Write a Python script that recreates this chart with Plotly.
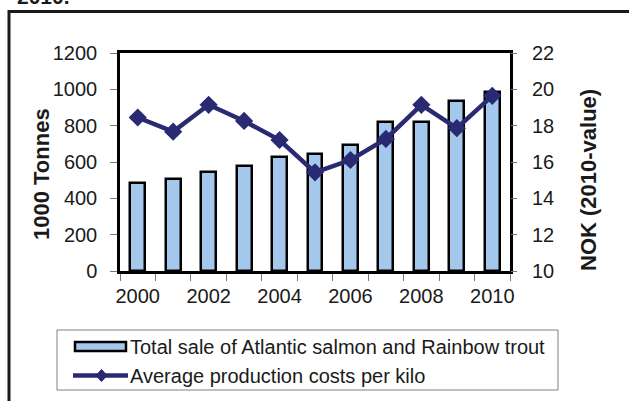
import plotly.graph_objects as go

years = [2000, 2001, 2002, 2003, 2004, 2005, 2006, 2007, 2008, 2009, 2010]
sales_kt = [487, 508, 543, 576, 626, 644, 692, 822, 822, 937, 983]
cost_nok = [18.45, 17.67, 19.15, 18.26, 17.21, 15.43, 16.11, 17.27, 19.15, 17.86, 19.64]
x_tick_labels = [2000, 2002, 2004, 2006, 2008, 2010]
left_ticks = [0, 200, 400, 600, 800, 1000, 1200]
right_ticks = [10, 12, 14, 16, 18, 20, 22]

bar_name = "Total sale of Atlantic salmon and Rainbow trout"
line_name = "Average production costs per kilo"

W, H = 629, 401
ML, MR, MT, MB = 120, 119, 53, 130
PW, PH = W - ML - MR, H - MT - MB

def px(x):
    return (x - ML) / PW

def py(y):
    return (H - MB - y) / PH

FONT = "Liberation Sans, Arial, sans-serif"
BAR_FILL = "#A4C8EC"
LINE_COL = "#2A2A72"
TXT = "#1a1a1a"

fig = go.Figure()
fig.add_trace(go.Bar(
    x=years, y=sales_kt, width=0.42, name=bar_name,
    marker=dict(color=BAR_FILL, line=dict(color="black", width=2.5)),
    showlegend=False,
))
fig.add_trace(go.Scatter(
    x=years, y=cost_nok, yaxis="y2", name=line_name, mode="lines+markers",
    line=dict(color=LINE_COL, width=4.5),
    marker=dict(symbol="diamond", size=14, color=LINE_COL),
    showlegend=False,
))

xr = [years[0] - 0.5, years[-1] + 0.5]
fig.update_layout(
    width=W, height=H,
    margin=dict(l=ML, r=MR, t=MT, b=MB),
    paper_bgcolor="white", plot_bgcolor="white",
    font=dict(family=FONT, size=20, color=TXT),
    bargap=0,
    xaxis=dict(
        range=xr, tickmode="array", tickvals=x_tick_labels,
        ticks="", showgrid=False, zeroline=False,
        showline=True, linecolor="black", linewidth=2.5, mirror=True,
        tickfont=dict(size=20, color=TXT), ticklabelstandoff=5,
        minor=dict(tickmode="array", tickvals=[y - 0.5 for y in years] + [years[-1] + 0.5],
                   ticks="outside", ticklen=7, tickwidth=1, tickcolor="#777777"),
    ),
    yaxis=dict(
        range=[left_ticks[0], left_ticks[-1]], tickmode="array", tickvals=left_ticks,
        ticks="outside", ticklen=7, tickwidth=1, tickcolor="#777777",
        showgrid=False, zeroline=False,
        showline=True, linecolor="black", linewidth=2.5, mirror=True,
        tickfont=dict(size=20, color=TXT), ticklabelstandoff=9,
    ),
    yaxis2=dict(
        range=[right_ticks[0], right_ticks[-1]], tickmode="array", tickvals=right_ticks,
        overlaying="y", side="right", anchor="x",
        ticks="outside", ticklen=6, tickwidth=1, tickcolor="#777777",
        showgrid=False, zeroline=False, showline=False,
        tickfont=dict(size=20, color=TXT), ticklabelstandoff=11,
    ),
    yaxis3=dict(
        range=[right_ticks[0], right_ticks[-1]], tickmode="array", tickvals=right_ticks,
        overlaying="y", side="right", anchor="x",
        ticks="inside", ticklen=5, tickwidth=1, tickcolor="#777777",
        showticklabels=False, showgrid=False, zeroline=False, showline=False,
    ),
)

shapes = []
annotations = []

# outer frame (cut off by the page at right/bottom)
shapes.append(dict(type="rect", xref="paper", yref="paper",
                   x0=px(9), x1=px(W + 50), y0=py(11.5), y1=py(H + 50),
                   line=dict(color="#1a1a1a", width=3), fillcolor="rgba(0,0,0,0)", layer="above"))

# legend box
shapes.append(dict(type="rect", xref="paper", yref="paper",
                   x0=px(57), x1=px(558), y0=py(330), y1=py(390),
                   line=dict(color="#808080", width=1), fillcolor="white", layer="above"))
# bar swatch
shapes.append(dict(type="rect", xref="paper", yref="paper",
                   x0=px(75), x1=px(126), y0=py(342), y1=py(351),
                   line=dict(color="black", width=2.5), fillcolor=BAR_FILL, layer="above"))
# line swatch
shapes.append(dict(type="line", xref="paper", yref="paper",
                   x0=px(73), x1=px(128), y0=py(375.5), y1=py(375.5),
                   line=dict(color=LINE_COL, width=4.5), layer="above"))
cx, cy = 101.5, 375.5
shapes.append(dict(type="path", xref="paper", yref="paper",
                   path=f"M {px(cx-5.5)} {py(cy)} L {px(cx)} {py(cy-6)} L {px(cx+5.5)} {py(cy)} L {px(cx)} {py(cy+6)} Z",
                   line=dict(color=LINE_COL, width=1), fillcolor=LINE_COL, layer="above"))

annotations.append(dict(text=bar_name, xref="paper", yref="paper", x=px(128), y=py(346.5),
                        xanchor="left", yanchor="middle", showarrow=False,
                        font=dict(size=20, color=TXT, family=FONT)))
annotations.append(dict(text=line_name, xref="paper", yref="paper", x=px(128), y=py(375.5),
                        xanchor="left", yanchor="middle", showarrow=False,
                        font=dict(size=20, color=TXT, family=FONT)))

# axis titles
annotations.append(dict(text="<b>1000 Tonnes</b>", xref="paper", yref="paper", x=px(41), y=py(174),
                        xanchor="center", yanchor="middle", textangle=-90, showarrow=False,
                        font=dict(size=22, color=TXT, family=FONT)))
annotations.append(dict(text="<b>NOK (2010-value)</b>", xref="paper", yref="paper", x=px(588), y=py(180),
                        xanchor="center", yanchor="middle", textangle=-90, showarrow=False,
                        font=dict(size=22, color=TXT, family=FONT)))

# cut-off caption remnant at top (the reference crops this caption)
annotations.append(dict(text="<b>2010.</b>", xref="paper", yref="paper", x=px(15), y=py(9.5),
                        xanchor="left", yanchor="bottom", showarrow=False,
                        font=dict(size=21, color=TXT, family=FONT)))

fig.update_layout(shapes=shapes, annotations=annotations)
fig.write_html("out.html",
               config={"displayModeBar": False},
               post_script="document.body.style.margin='0px';document.body.style.overflow='hidden';")
